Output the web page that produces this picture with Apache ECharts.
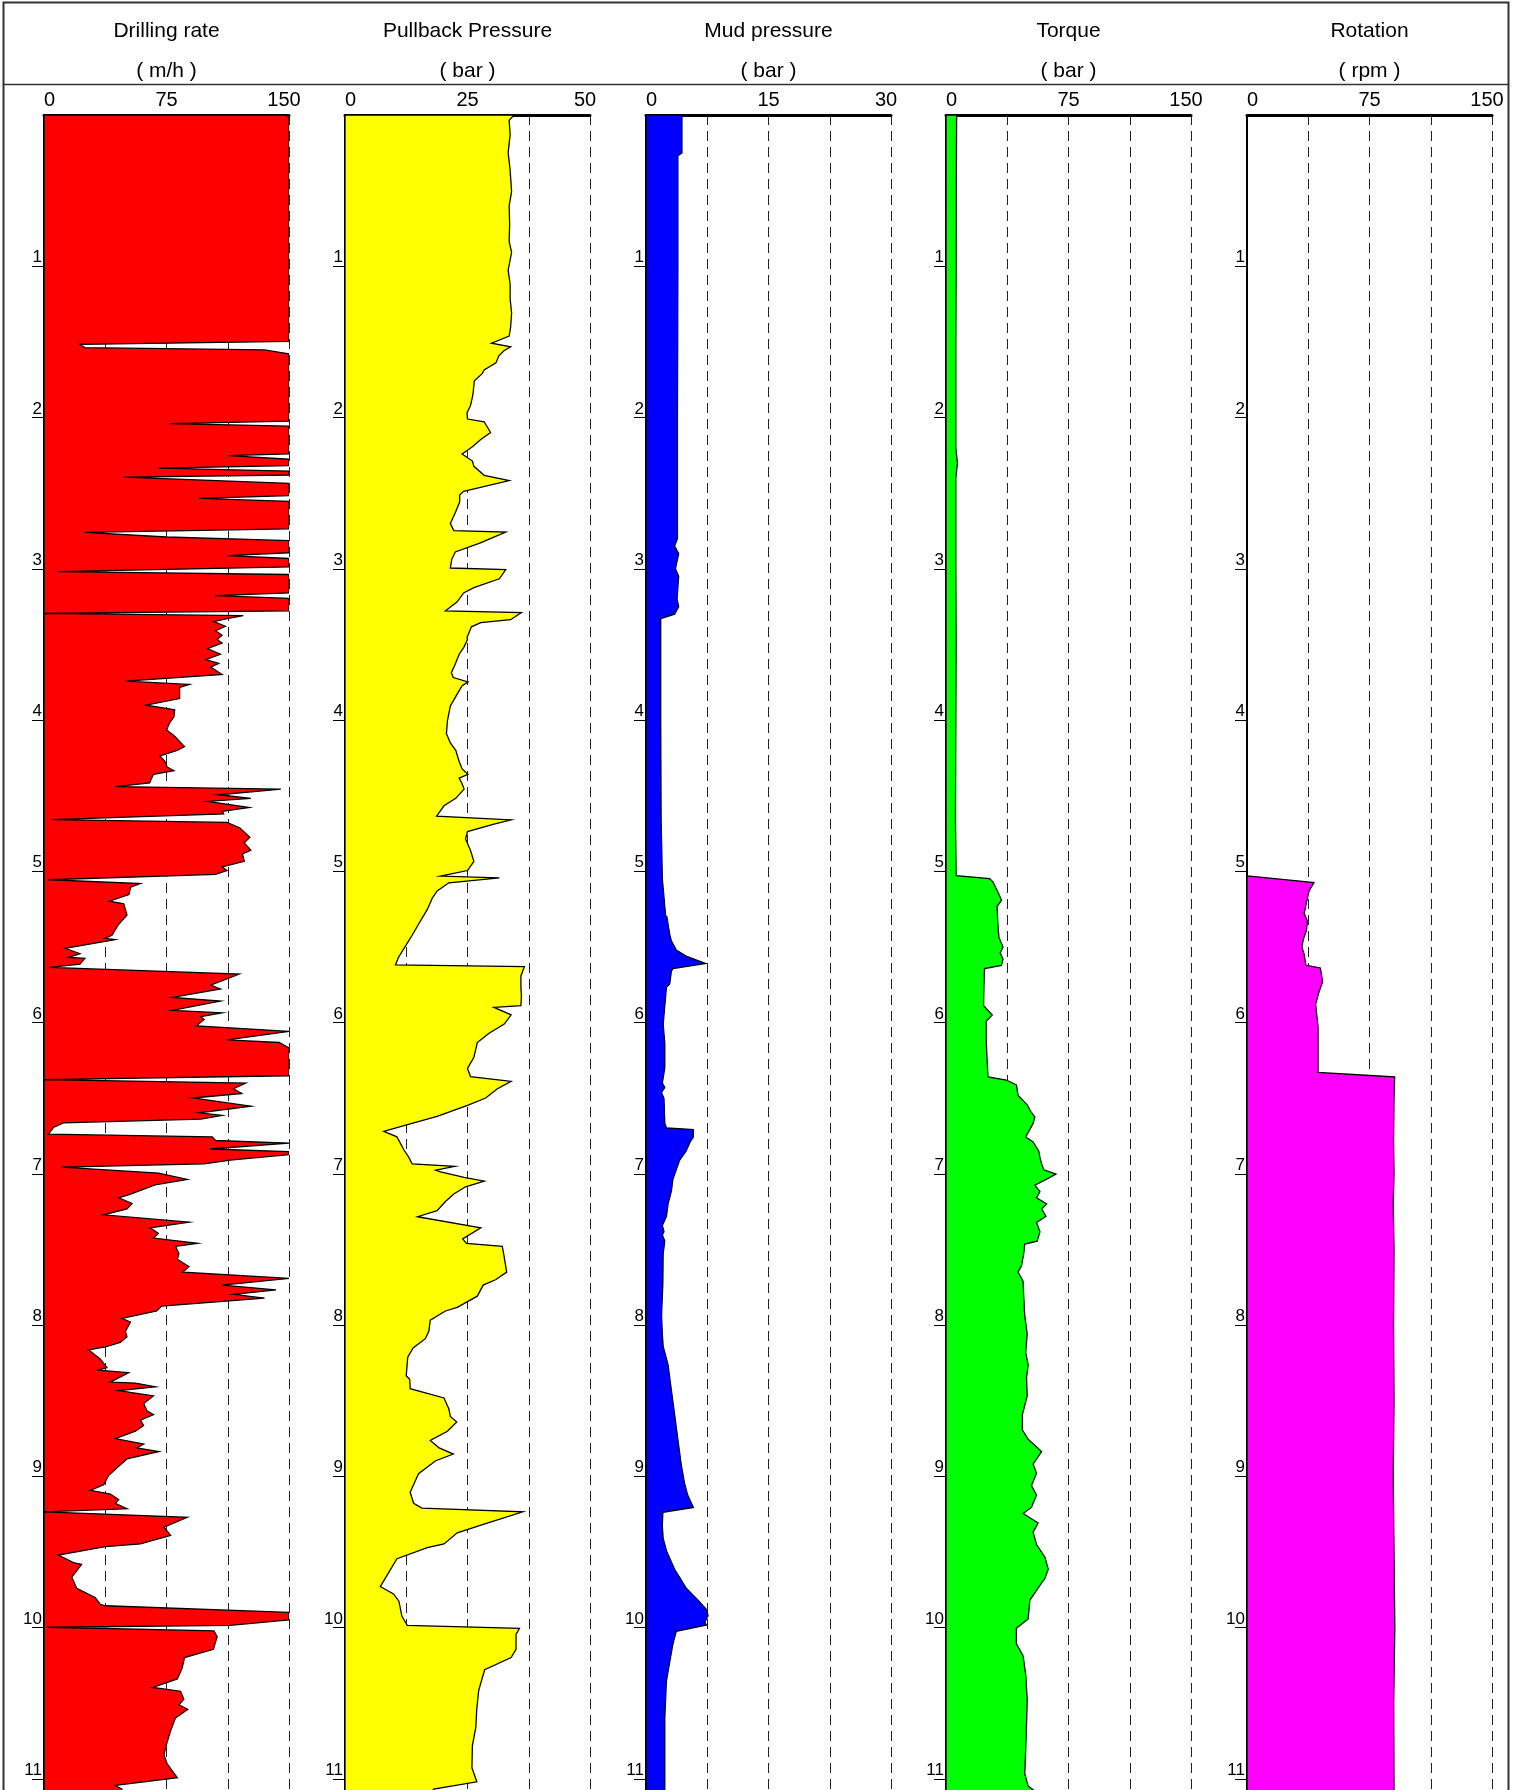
<!DOCTYPE html>
<html>
<head>
<meta charset="utf-8">
<script src="https://cdn.jsdelivr.net/npm/echarts@6/dist/echarts.min.js"></script>
<style>
html,body{margin:0;padding:0;background:#fff;}
#chart{width:1517px;height:1790px;}
</style>
</head>
<body>
<div id="chart"></div>
<script>
// ---- Track definitions ----
const trackTitles = ['Drilling rate', 'Pullback Pressure', 'Mud pressure', 'Torque', 'Rotation'];
const trackUnits = ['( m/h )', '( bar )', '( bar )', '( bar )', '( rpm )'];
const trackMax = [150, 50, 30, 150, 150];
const trackColors = ['#ff0000', '#ffff00', '#0000ff', '#00ff00', '#ff00ff'];
const depthTicks = [1, 2, 3, 4, 5, 6, 7, 8, 9, 10, 11];

// ---- Data: [depth (m), value] ----
const drillingRate = [
[0,148],[0.02,150],[1.497,150],[1.517,22],[1.538,25],[1.553,135],[1.58,150],
[2.024,150],[2.04,77],[2.057,150],[2.24,150],[2.252,113],[2.276,150],
[2.318,150],[2.335,70],[2.354,150],[2.38,150],[2.394,49],[2.436,150],
[2.516,150],[2.535,95],[2.554,150],[2.736,150],[2.759,25],[2.79,75],[2.814,150],
[2.894,150],[2.913,112],[2.932,150],[2.988,150],[3.019,8],[3.038,150],
[3.16,150],[3.177,105],[3.196,150],[3.278,150],[3.295,0],[3.31,122],[3.33,112],
[3.35,104],[3.38,111],[3.41,105],[3.44,109],
[3.467,106],[3.491,109],[3.528,100],[3.565,108],[3.601,99],[3.626,107],[3.650,102],[3.699,109],
[3.743,50],[3.765,89],[3.785,83],[3.858,83],[3.902,62.5],[3.932,80],[3.980,79.5],[4.017,77],
[4.066,75],[4.103,79.5],[4.176,86],[4.200,81.5],[4.237,71],[4.274,74],[4.311,75.4],[4.335,79.5],
[4.359,67],[4.391,65.6],[4.416,64.7],[4.440,43.8],[4.457,145],[4.494,107],[4.518,126.6],[4.538,100],
[4.579,125.6],[4.604,109],[4.621,110],[4.658,4.7],[4.677,112],[4.714,120],[4.775,126],[4.812,122.6],
[4.861,126.6],[4.885,121.5],[4.934,122.6],[4.971,109],[4.995,112],[5.020,105],[5.056,2.7],[5.081,59],
[5.105,53],[5.154,52],[5.198,40],[5.215,48.8],[5.289,50.8],[5.350,45.7],[5.423,41.6],[5.443,37.5],
[5.452,43.6],[5.509,12.9],[5.545,22],[5.570,15],[5.575,25],[5.614,22],[5.636,3.3],[5.680,119.5],
[5.753,102],[5.778,108],[5.834,78.5],[5.858,108],[5.919,78.5],[5.936,109],[5.961,96],[5.980,98],
[6.022,93.4],[6.059,150],[6.115,112],[6.132,144],[6.169,150],[6.352,150],[6.377,0],[6.401,123.5],
[6.438,116],[6.469,121],[6.499,91],[6.553,126.6],[6.597,95],[6.614,109],[6.638,96],[6.663,11.9],
[6.694,5.7],[6.738,2.7],[6.756,103],[6.780,105],[6.797,150],[6.836,101.6],[6.853,150],[6.873,150],
[6.909,114],[6.934,98],[6.956,10.9],[6.995,70],[7.037,87.7],[7.073,68],[7.134,53],[7.159,45.7],
[7.196,53.9],[7.232,50.8],[7.271,36.5],[7.320,88.7],[7.357,65],[7.394,70],[7.425,67],[7.460,94],
[7.479,80.5],[7.528,82.6],[7.565,81.6],[7.614,88.7],[7.650,85],[7.692,150],[7.736,109],[7.768,142],
[7.797,116],[7.822,135],[7.875,72],[7.907,69],[7.956,47.7],[7.980,52.9],[8.042,49.8],[8.078,50.8],
[8.115,46.7],[8.144,37.5],[8.164,27.2],[8.225,34.4],[8.281,38.5],[8.298,33],[8.315,51.8],[8.377,40.6],
[8.384,55.9],[8.408,68.2],[8.433,45.7],[8.469,67],[8.518,61],[8.567,63],[8.592,67],[8.628,59],
[8.665,61],[8.702,55.9],[8.751,43.6],[8.787,61],[8.812,56.7],[8.836,70.3],[8.885,50.8],[8.934,45.7],
[8.995,39.5],[9.056,36.5],[9.093,28.3],[9.117,40.6],[9.154,45.7],[9.178,43.6],[9.215,50.8],[9.235,0],
[9.271,87.7],[9.337,73.4],[9.391,77.5],[9.447,59],[9.465,37.5],[9.521,8.8],[9.570,18],[9.582,23],
[9.667,17],[9.741,20],[9.802,31.3],[9.846,34.4],[9.856,37.5],[9.900,150],[9.949,150],[9.985,114],
[9.998,1.6],[10.022,104],[10.059,106],[10.144,103.7],[10.198,86],[10.267,84.6],[10.340,81.6],[10.396,66.6],
[10.421,83.6],[10.474,85.6],[10.511,82.6],[10.540,88],[10.597,80.5],[10.682,77.5],[10.756,75.4],[10.841,73.4],
[10.902,75.4],[10.993,81.6],[11.044,43.6],[11.068,47.7],[11.1,47]
];

const pullbackPressure = [
[0,34.5],[0.035,33.5],[0.13,33.7],[0.248,33.3],[0.366,33.7],[0.507,34],[0.601,33.5],[0.719,33.6],
[0.837,33.5],[0.908,34],[1.026,33.3],[1.12,33.7],[1.215,33.7],[1.309,34],[1.403,33.8],[1.462,33.5],
[1.509,29.9],[1.533,33.8],[1.557,32.5],[1.592,31.4],[1.639,30.8],[1.686,28.4],[1.710,28],[1.757,26.4],
[1.851,26.1],[1.922,25.6],[1.969,24.9],[2.01,25],[2.028,28.4],[2.099,29.7],[2.146,27.7],[2.193,26],
[2.241,23.9],[2.288,26],[2.323,26.3],[2.382,28.4],[2.417,33.5],[2.488,24.2],[2.512,23.4],[2.559,23.4],
[2.630,22.5],[2.700,21.5],[2.748,22.2],[2.758,32.8],[2.83,27.5],[2.889,22.5],[2.936,21.8],[2.995,21.5],
[3.005,32.8],[3.066,31.5],[3.125,26.3],[3.160,24.2],[3.219,22.9],[3.278,20.5],[3.29,36],[3.337,33.8],
[3.356,27.7],[3.384,25.8],[3.455,24.9],[3.467,25],[3.516,24.3],[3.565,23.3],[3.638,22.4],[3.687,21.7],
[3.719,22.1],[3.748,25.1],[3.773,23.9],[3.834,22.8],[3.907,21.5],[4.005,20.9],[4.090,20.7],[4.152,21.5],
[4.200,22.6],[4.274,23.3],[4.323,23.9],[4.359,25.1],[4.384,23.3],[4.421,23.9],[4.457,24.3],[4.518,22.6],
[4.567,20.2],[4.636,18.7],[4.660,33.9],[4.689,30.4],[4.738,25],[4.787,24.6],[4.861,25.6],[4.934,26.3],
[4.995,25],[5.032,19.5],[5.044,31.5],[5.076,21.2],[5.130,18.8],[5.178,17.8],[5.252,16.8],[5.350,15],
[5.423,13.7],[5.496,12.3],[5.570,10.9],[5.619,10.3],[5.631,36.6],[5.692,35.9],[5.765,35.9],[5.826,36],
[5.888,35.9],[5.900,30.4],[5.949,33.9],[6.010,32.5],[6.071,29.4],[6.132,27],[6.230,26.3],[6.303,25],
[6.357,25.6],[6.389,33.9],[6.438,31.1],[6.499,28.7],[6.548,25],[6.621,18.8],[6.670,13.3],[6.719,7.9],
[6.756,10.6],[6.841,12],[6.890,13],[6.934,13.7],[6.951,22.4],[6.976,18.5],[6.988,19.5],[7.024,24.3],
[7.049,28.4],[7.086,24.6],[7.134,22.2],[7.183,20.5],[7.244,18.8],[7.284,14.8],[7.357,27.7],[7.430,24],
[7.460,24.8],[7.479,32.1],[7.553,32.5],[7.650,33],[7.699,30.8],[7.736,28.2],[7.809,27],[7.883,22.9],
[7.907,20.5],[7.968,17.4],[8.042,17.1],[8.090,16.4],[8.152,13.9],[8.213,12.8],[8.335,12.5],[8.359,13.2],
[8.421,13.3],[8.482,20.2],[8.555,21.2],[8.604,21.5],[8.641,22.8],[8.702,20.9],[8.763,17.4],[8.812,19.2],
[8.853,22.1],[8.897,18.5],[8.983,15],[9.105,13.3],[9.178,14],[9.210,15.7],[9.235,36.3],[9.313,28.7],
[9.374,22.9],[9.447,20.2],[9.472,16.8],[9.545,10.6],[9.729,7.2],[9.778,9.9],[9.826,11],[9.924,11.6],
[9.985,12.7],[10.005,35.6],[10.046,34.9],[10.144,34.9],[10.198,33.9],[10.279,28.5],[10.413,27.3],[10.535,26.9],
[10.658,26.7],[10.780,26],[10.927,25.9],[11.020,26.9],[11.068,18.1],[11.1,17.5]
];

const mudPressure = [
[0,4.4],[0.25,4.4],[0.27,3.9],[1.0,3.9],[2.0,3.85],[2.8,3.85],[2.85,3.5],[2.9,4.0],[3.0,3.6],
[3.05,4.0],[3.2,3.8],[3.25,4.0],[3.3,3.5],[3.33,1.8],[4.0,1.8],[4.66,1.85],[5.049,2.0],[5.295,2.4],
[5.30,2.55],[5.418,2.9],[5.459,3.1],[5.520,3.7],[5.561,4.9],[5.610,7.3],[5.643,3.3],[5.663,3.1],
[5.745,2.9],[5.766,2.5],[5.889,2.3],[6.012,2.1],[6.135,2.3],[6.298,2.3],[6.400,2.0],[6.429,2.3],
[6.462,1.9],[6.503,2.2],[6.667,2.3],[6.696,2.5],[6.708,5.8],[6.757,5.8],[6.789,5.4],[6.851,4.9],
[6.912,4.1],[6.974,3.7],[7.035,3.3],[7.117,3.1],[7.199,2.7],[7.281,2.5],[7.342,2.0],[7.383,2.2],
[7.404,2.0],[7.445,2.3],[7.526,2.1],[7.731,2.06],[7.936,1.9],[8.059,2.0],[8.141,2.1],[8.264,2.7],
[8.428,3.1],[8.591,3.5],[8.755,3.9],[8.919,4.3],[9.042,4.7],[9.124,5.1],[9.206,5.8],[9.238,2.06],
[9.328,2.0],[9.410,2.1],[9.492,2.5],[9.615,3.5],[9.738,4.9],[9.820,6.4],[9.881,7.4],[9.922,7.6],
[9.963,7.2],[9.984,7.4],[10.004,5.6],[10.025,3.7],[10.107,3.3],[10.229,2.9],[10.352,2.5],[10.475,2.4],
[10.598,2.3],[11.1,2.3]
];

const torque = [
[0,6.5],[0.5,6.3],[1.0,6.2],[1.5,6],[2.2,6],[2.3,7],[2.4,6],[3.0,6],[3.5,6.2],[4.0,6],[4.66,5.8],
[5.029,6.2],[5.049,26.7],[5.070,28.7],[5.152,32.4],[5.192,34],[5.233,31.2],[5.356,31.8],[5.438,32.4],
[5.500,34.9],[5.541,33.2],[5.581,34.9],[5.622,33.9],[5.643,23.6],[5.766,23.2],[5.889,23],[5.950,28.3],
[5.991,24.6],[6.093,24.6],[6.216,25],[6.360,25.7],[6.380,36.9],[6.413,43.1],[6.482,44.1],[6.544,49.7],
[6.585,51.7],[6.626,54.4],[6.667,53.3],[6.757,48.8],[6.790,53.3],[6.851,56.8],[6.892,57.5],[6.933,58.5],
[6.974,59.9],[7.002,67.3],[7.035,61.6],[7.076,54.4],[7.117,57.5],[7.158,55.4],[7.199,61.6],[7.232,58.5],
[7.281,61.2],[7.322,55.4],[7.383,57.5],[7.445,55.8],[7.465,48.2],[7.527,47.6],[7.608,46.2],[7.650,44.1],
[7.711,47.2],[7.813,47.6],[7.936,48.2],[8.059,49.7],[8.182,48.8],[8.264,50.3],[8.346,49.3],[8.468,49.7],
[8.591,46.8],[8.694,46.8],[8.755,50.3],[8.837,58.5],[8.919,53.3],[8.980,55.4],[9.062,52.3],[9.124,55.4],
[9.206,52.3],[9.246,47.2],[9.308,56.4],[9.369,53.3],[9.451,55.4],[9.533,60.5],[9.615,62.6],[9.676,60.5],
[9.738,56.4],[9.820,51.3],[9.943,50.3],[10.004,43.1],[10.107,43.1],[10.188,47.2],[10.311,48.8],[10.475,49.7],
[10.639,49.3],[10.803,48.8],[10.966,48.2],[11.048,50.3],[11.081,54.4],[11.1,55]
];

const rotation = [
[0,0],[5.03,0],[5.075,41],[5.13,38],[5.2,36.5],[5.28,35],[5.33,37],[5.39,36.4],[5.45,34.5],[5.5,33.6],
[5.55,35],[5.62,36],[5.64,44.9],[5.73,46.3],[5.8,44],[5.88,42],[6.03,43.5],[6.18,43.5],[6.33,43.5],
[6.36,90.4],[6.5,90],[6.79,89.7],[7.0,90],[7.2,89.5],[7.5,90],[8.0,89.7],[8.5,90],[9.0,89.5],[9.5,90],
[10.0,90.5],[10.5,89.8],[11.1,90]
];

const trackData = [drillingRate, pullbackPressure, mudPressure, torque, rotation];

// ---- Layout ----
const TRACK_LEFT = [44, 345, 646, 946, 1247];
const TRACK_W = 245;
const PLOT_TOP = 115;
const DEPTH_MAX = 11.074;
const FONT = '"Liberation Sans", Arial, sans-serif';

const grids = [], xAxes = [], yAxes = [], series = [], graphics = [];

trackData.forEach((pts, i) => {
  const M = trackMax[i];
  grids.push({left: TRACK_LEFT[i], width: TRACK_W, top: PLOT_TOP, bottom: 0, containLabel: false});
  xAxes.push({
    gridIndex: i, type: 'value', position: 'top', min: 0, max: M, interval: M / 4,
    axisLine: {show: true, onZero: false, lineStyle: {color: '#000', width: 3}},
    axisTick: {show: false},
    axisLabel: {
      customValues: [0, M / 2, M], margin: 5, color: '#000', fontSize: 20, fontFamily: FONT,
      alignMinLabel: 'left', alignMaxLabel: 'center',
      formatter: function (v) { return v === M ? '{m|' + v + '}' : String(v); },
      rich: {m: {fontSize: 20, fontFamily: FONT, color: '#000', padding: [0, 10, 0, 0]}}
    },
    splitLine: {show: true, lineStyle: {color: '#222', width: 1, type: [10, 6]}}
  });
  yAxes.push({
    gridIndex: i, type: 'value', inverse: true, min: 0, max: DEPTH_MAX, interval: 1,
    axisLine: {show: true, onZero: false, lineStyle: {color: '#000', width: 2}},
    axisTick: {show: true, length: 12, inside: false, customValues: depthTicks, lineStyle: {color: '#000', width: 1}},
    axisLabel: {
      customValues: depthTicks, margin: 2, color: '#000', fontSize: 17, fontFamily: FONT,
      verticalAlign: 'bottom'
    },
    splitLine: {show: false}
  });
  const color = trackColors[i];
  series.push({
    type: 'custom', xAxisIndex: i, yAxisIndex: i, clip: true, silent: true,
    data: pts.map(p => [p[1], p[0]]),
    encode: {x: 0, y: 1},
    renderItem: function (params, api) {
      if (params.dataIndex !== 0) return null;
      const poly = [api.coord([0, pts[0][0]])];
      pts.forEach(p => poly.push(api.coord([p[1], p[0]])));
      poly.push(api.coord([0, pts[pts.length - 1][0]]));
      return {
        type: 'polygon',
        shape: {points: poly},
        style: {fill: color, stroke: '#000', lineWidth: 1.3, lineJoin: 'miter'}
      };
    }
  });
  const cx = TRACK_LEFT[i] + TRACK_W / 2;
  graphics.push({type: 'text', x: cx, y: 31, style: {text: trackTitles[i], fill: '#000', font: '21px ' + FONT, textAlign: 'center', textVerticalAlign: 'middle'}});
  graphics.push({type: 'text', x: cx, y: 71, style: {text: trackUnits[i], fill: '#000', font: '21px ' + FONT, textAlign: 'center', textVerticalAlign: 'middle'}});
});

// frame and header separator
graphics.push({type: 'rect', shape: {x: 3.5, y: 2.5, width: 1505, height: 1800}, style: {fill: null, stroke: '#333', lineWidth: 2}, z: 10});
graphics.push({type: 'line', shape: {x1: 3.5, y1: 84.5, x2: 1508.5, y2: 84.5}, style: {stroke: '#333', lineWidth: 1.5}, z: 10});

const chart = echarts.init(document.getElementById('chart'), null, {renderer: 'canvas'});
chart.setOption({
  animation: false,
  backgroundColor: '#fff',
  grid: grids, xAxis: xAxes, yAxis: yAxes, series: series,
  graphic: graphics
});
</script>
</body>
</html>
